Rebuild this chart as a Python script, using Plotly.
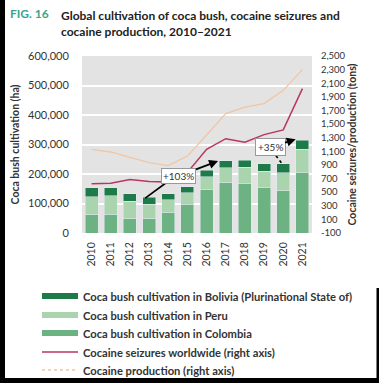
import plotly.graph_objects as go

years = list(range(2010, 2022))
colombia = [62000, 64000, 48000, 48000, 69000, 96000, 146000, 171000, 169000, 154000, 143000, 204000]
peru = [61200, 62500, 60400, 49800, 42900, 40300, 43900, 49900, 54100, 54700, 61800, 80700]
bolivia = [31000, 27200, 25300, 23000, 20400, 20200, 23100, 24500, 23100, 25500, 29400, 30500]
seizures = [625, 630, 685, 655, 648, 790, 1130, 1285, 1235, 1345, 1415, 2020]
production = [1130, 1090, 1010, 935, 890, 1030, 1340, 1655, 1750, 1800, 1995, 2300]
left_ticks = [0, 100000, 200000, 300000, 400000, 500000, 600000]
right_ticks = list(range(-100, 2501, 200))

C_COL = "#6cb283"
C_PERU = "#a9d4ad"
C_BOL = "#1f7a4a"
C_SEIZ = "#b8365f"
C_PROD = "#f0c6a4"
FONT = "Lato"
TXT = "#333333"

# plot area in pixels
L, R, T, B = 82, 312, 56, 233
W, H = 379, 383
def px(x):
    return (x - L) / (R - L)
def py(y):
    return (B - y) / (B - T)

fig = go.Figure()
fig.add_trace(go.Bar(x=years, y=colombia, name="Coca bush cultivation in Colombia", marker_color=C_COL, yaxis="y"))
fig.add_trace(go.Bar(x=years, y=peru, name="Coca bush cultivation in Peru", marker_color=C_PERU, yaxis="y"))
fig.add_trace(go.Bar(x=years, y=bolivia, name="Coca bush cultivation in Bolivia (Plurinational State of)", marker_color=C_BOL, yaxis="y"))
fig.add_trace(go.Scatter(x=years, y=production, mode="lines", line=dict(color=C_PROD, width=1.3), yaxis="y2", name="Cocaine production (right axis)"))
fig.add_trace(go.Scatter(x=years, y=seizures, mode="lines", line=dict(color=C_SEIZ, width=1.5), yaxis="y2", name="Cocaine seizures worldwide (right axis)"))

shapes = []
annotations = []

# connector lines for growth labels
shapes.append(dict(type="line", xref="x", yref="y", x0=2012.8, y0=118000, x1=2014.05, y1=178000,
                   line=dict(color="black", width=1.6)))
shapes.append(dict(type="line", xref="x", yref="y", x0=2019.62, y0=262000, x1=2019.9, y1=238000,
                   line=dict(color="black", width=1.6, dash="dot")))

annotations.append(dict(x=2016.6, y=244000, ax=2014.56, ay=194000, xref="x", yref="y", axref="x", ayref="y",
                        text="+103%", showarrow=True, arrowhead=2, arrowsize=1, arrowwidth=1.8, arrowcolor="black",
                        bgcolor="white", bordercolor="#999999", borderwidth=1, borderpad=1,
                        font=dict(family=FONT, size=10, color=TXT)))
annotations.append(dict(x=2020.65, y=318000, ax=2019.31, ay=290000, xref="x", yref="y", axref="x", ayref="y",
                        text="+35%", showarrow=True, arrowhead=2, arrowsize=1, arrowwidth=1.8, arrowcolor="black",
                        bgcolor="white", bordercolor="#999999", borderwidth=1, borderpad=2,
                        font=dict(family=FONT, size=10, color=TXT)))

# title
annotations.append(dict(xref="paper", yref="paper", x=px(8), y=py(14), xanchor="left", yanchor="middle",
                        text="<b>FIG. 16</b>", showarrow=False, font=dict(family=FONT, size=12, color="#3aa58b")))
annotations.append(dict(xref="paper", yref="paper", x=px(59), y=py(23), xanchor="left", yanchor="middle",
                        text="<b>Global cultivation of coca bush, cocaine seizures and<br>cocaine production, 2010–2021</b>",
                        align="left", showarrow=False, font=dict(family=FONT, size=12, color="#222222")))

# custom legend
legend_items = [
    ("rect", C_BOL, "Coca bush cultivation in Bolivia (Plurinational State of)", 296),
    ("rect", C_PERU, "Coca bush cultivation in Peru", 315),
    ("rect", C_COL, "Coca bush cultivation in Colombia", 333),
    ("line", C_SEIZ, "Cocaine seizures worldwide (right axis)", 352),
    ("dot", C_PROD, "Cocaine production (right axis)", 370),
]
for kind, col, label, yc in legend_items:
    if kind == "rect":
        shapes.append(dict(type="rect", xref="paper", yref="paper", x0=px(42), x1=px(78), y0=py(yc - 3), y1=py(yc + 3),
                           fillcolor=col, line=dict(width=0)))
    else:
        shapes.append(dict(type="line", xref="paper", yref="paper", x0=px(42), x1=px(78), y0=py(yc), y1=py(yc),
                           line=dict(color=col, width=1.3, dash="dot" if kind == "dot" else "solid")))
    annotations.append(dict(xref="paper", yref="paper", x=px(81), y=py(yc), xanchor="left", yanchor="middle",
                            text="<b>" + label + "</b>", showarrow=False, font=dict(family=FONT, size=11.2, color=TXT)))

# frame (black edges of the scanned figure)
shapes.append(dict(type="rect", xref="paper", yref="paper", x0=px(0), x1=px(5), y0=py(383), y1=py(0),
                   fillcolor="black", line=dict(width=0)))
shapes.append(dict(type="rect", xref="paper", yref="paper", x0=px(0), x1=px(379), y0=py(383), y1=py(378),
                   fillcolor="black", line=dict(width=0)))
shapes.append(dict(type="rect", xref="paper", yref="paper", x0=px(376.5), x1=px(379), y0=py(383), y1=py(288),
                   fillcolor="black", line=dict(width=0)))

fig.update_layout(
    width=W, height=H,
    margin=dict(l=L, r=W - R, t=T, b=H - B, pad=0),
    paper_bgcolor="white", plot_bgcolor="#e3e3e3",
    barmode="stack", bargap=0.32,
    showlegend=False,
    font=dict(family=FONT, color=TXT),
    xaxis=dict(tickmode="array", tickvals=years, ticktext=[str(y) for y in years], tickangle=-90,
               range=[2009.5, 2021.5], showgrid=False, zeroline=False,
               ticks="outside", ticklen=4, tickcolor="rgba(0,0,0,0)",
               tickfont=dict(family=FONT, size=10.5, color=TXT)),
    yaxis=dict(range=[0, 600000], tickmode="array", tickvals=left_ticks,
               ticktext=[f"{v:,}" for v in left_ticks], showgrid=True, gridcolor="white", gridwidth=1.5,
               zeroline=False, ticks="outside", ticklen=10, tickcolor="rgba(0,0,0,0)",
               tickfont=dict(family=FONT, size=11, color=TXT),
               title=dict(text="<b>Coca bush cultivation (ha)</b>", font=dict(family=FONT, size=10.5, color=TXT), standoff=6)),
    yaxis2=dict(range=[-100, 2500], overlaying="y", side="right", tickmode="array", tickvals=right_ticks,
                ticktext=[f"{v:,}" for v in right_ticks], showgrid=False, zeroline=False,
                ticks="outside", ticklen=6, tickcolor="rgba(0,0,0,0)",
                tickfont=dict(family=FONT, size=9.5, color=TXT),
                title=dict(text="<b>Cocaine seizures/production (tons)</b>", font=dict(family=FONT, size=10.5, color=TXT), standoff=4)),
    shapes=shapes,
    annotations=annotations,
)

fig.write_html("out.html", config={"displayModeBar": False},
               post_script="document.body.style.margin='0';document.body.style.overflow='hidden';")
